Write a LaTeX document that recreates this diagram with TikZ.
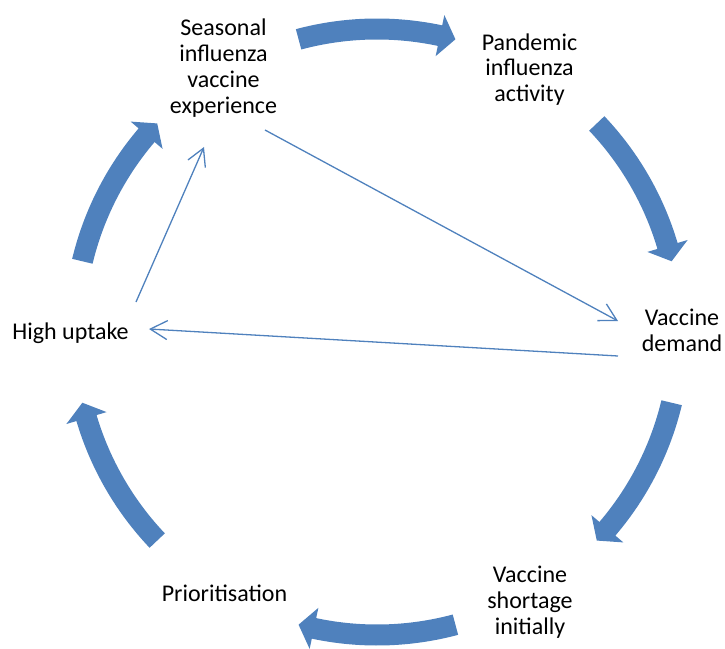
\documentclass[tikz,border=0pt]{standalone}
\usepackage{fontspec}
\setmainfont{Carlito}
\usetikzlibrary{calc,arrows.meta}
\definecolor{cycleblue}{HTML}{4F81BD}
\def\cyclearrow(#1:#2){\fill[cycleblue] (#1+15:#2+10.5) arc (#1+15:#1-12:#2+10.5) -- (#1-12:#2+21) -- (#1-15:#2) -- (#1-12:#2-21) -- (#1-12:#2-10.5) arc (#1-12:#1+15:#2-10.5) -- cycle;}
\tikzset{
  label/.style={font=\fontsize{24}{25.8}\selectfont, align=center, inner sep=0pt},
  thinarrow/.style={draw=cycleblue, line width=1.3pt, -{Straight Barb[length=17pt,width=19pt]}}
}

\begin{document}
\begin{tikzpicture}[x=1pt, y=1pt]
			%%%%% START %%%%%
			\useasboundingbox (-377, -316) rectangle (348, 332);
			
			\cyclearrow(90:303)
			\cyclearrow(28.5:303)
			\cyclearrow(-28.5:303)
			\cyclearrow(-90:303)
			\cyclearrow(208.5:303)
			\cyclearrow(151.5:303)
			
			\node[label] (seasonal) at (-153.5, 264) {Seasonal\\influenza\\vaccine\\experience};
			\node[label] (pandemic) at (152.5, 262.5) {Pandemic\\influenza\\activity};
			\node[label] (demand) at (305, 2) {Vaccine\\demand};
			\node[label] (shortage) at (153, -270) {Vaccine\\shortage\\initially};
			\node[label] (prior) at (-152.5, -261.5) {Prioritisation};
			\node[label] (uptake) at (-306.5, -1.5) {High uptake};
			
			\draw[thinarrow] ([shift={(41.5,-62)}]seasonal.center) -- ([shift={(-64,9)}]demand.center);
			\draw[thinarrow] ([shift={(-64,-26)}]demand.center) -- ([shift={(78.5,4.5)}]uptake.center);
			\draw[thinarrow] ([shift={(65.5,31.5)}]uptake.center) -- ([shift={(-19.5,-79)}]seasonal.center);
			
			%%%%% END %%%%%
\end{tikzpicture}
\end{document}
